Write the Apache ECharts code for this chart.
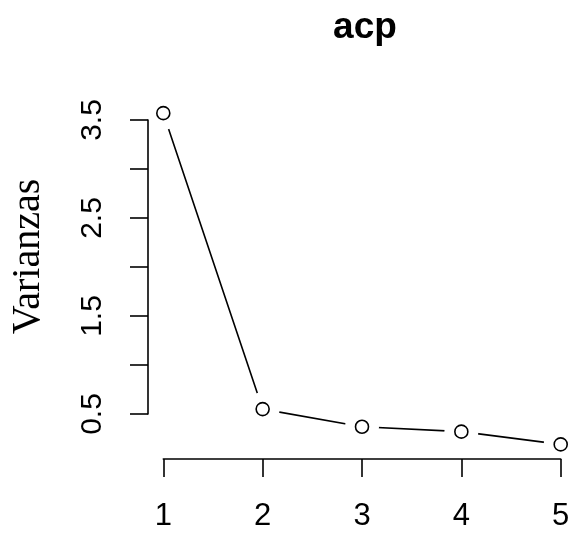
<!DOCTYPE html>
<html>
<head>
<meta charset="utf-8">
<script src="https://cdn.jsdelivr.net/npm/echarts@6/dist/echarts.min.js"></script>
<style>
  html, body { margin: 0; padding: 0; background: #fff; }
  #chart { width: 571px; height: 536px; }
</style>
</head>
<body>
<div id="chart"></div>
<script>
// Scree plot: variance of each principal component
const components = [1, 2, 3, 4, 5];
const variances = [3.57, 0.55, 0.37, 0.32, 0.19];
const yTicksLabelled = [0.5, 1.5, 2.5, 3.5];

const points = components.map((c, i) => [c, variances[i]]);
const sans = '"Liberation Sans", Arial, sans-serif';

const chart = echarts.init(document.getElementById('chart'), null, { renderer: 'canvas' });
chart.setOption({
  backgroundColor: '#ffffff',
  animation: false,
  title: {
    text: 'acp',
    left: 360,
    textAlign: 'center',
    top: 4,
    textStyle: { fontFamily: sans, fontWeight: 'bold', fontSize: 37, color: '#000' }
  },
  grid: { left: 163.3, right: 10.3, top: 120, bottom: 122, containLabel: false, outerBoundsMode: 'none' },
  xAxis: {
    type: 'value',
    min: 1, max: 5, interval: 1,
    offset: 45,
    z: 5,
    splitLine: { show: false },
    axisLine: { show: true, lineStyle: { color: '#000', width: 1.6 } },
    axisTick: { show: true, length: 18, lineStyle: { color: '#000', width: 1.6 } },
    axisLabel: { fontFamily: sans, fontSize: 31, color: '#000', margin: 42 }
  },
  yAxis: {
    type: 'value',
    min: 0.5, max: 3.5, interval: 0.5,
    offset: 15.3,
    z: 5,
    splitLine: { show: false },
    axisLine: { show: true, lineStyle: { color: '#000', width: 1.6 } },
    axisTick: { show: true, length: 18, lineStyle: { color: '#000', width: 1.6 } },
    axisLabel: {
      fontFamily: sans, fontSize: 30, color: '#000', rotate: 90, margin: 40,
      formatter: v => yTicksLabelled.some(t => Math.abs(t - v) < 1e-9) ? v.toFixed(1) : ''
    },
    name: 'Varianzas',
    nameLocation: 'middle',
    nameRotate: 90,
    nameGap: 100,
    nameTextStyle: { fontFamily: '"Liberation Serif", "Times New Roman", serif', fontSize: 40, color: '#000', padding: [0, 0, 0, 21] }
  },
  series: [
    {
      type: 'line',
      data: points,
      clip: false,
      symbol: 'none',
      z: 1,
      lineStyle: { color: '#000', width: 1.6 }
    },
    {
      // white halo that breaks the line around each point
      type: 'scatter',
      data: points,
      clip: false,
      symbol: 'circle',
      symbolSize: 34,
      z: 2,
      itemStyle: { color: '#fff', borderWidth: 0, opacity: 1 },
      silent: true
    },
    {
      type: 'scatter',
      data: points,
      clip: false,
      symbol: 'circle',
      symbolSize: 13,
      z: 3,
      itemStyle: { color: '#fff', borderColor: '#000', borderWidth: 1.6, opacity: 1 }
    }
  ]
});
</script>
</body>
</html>
